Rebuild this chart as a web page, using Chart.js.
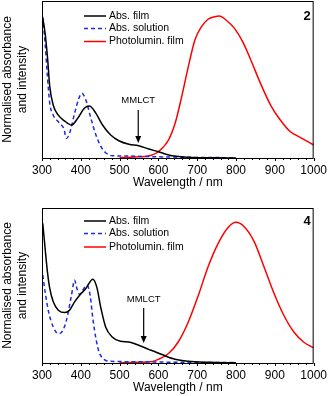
<!DOCTYPE html>
<html>
<head>
<meta charset="utf-8">
<script src="https://cdn.jsdelivr.net/npm/chart.js@4.4.1/dist/chart.umd.min.js"></script>
<style>
  body { margin: 0; background: #fff; width: 332px; height: 396px; overflow: hidden; position: relative; }
  .panel { position: absolute; left: 0; width: 332px; height: 191px; }
</style>
</head>
<body>
<div class="panel" style="top:0"><canvas id="chart2"></canvas></div>
<div class="panel" style="top:205px"><canvas id="chart4"></canvas></div>
<script>
// Complex 2
const filmWl2 = [302, 308, 314, 320, 329, 342, 358, 376, 392, 409, 422, 439, 456, 477, 498, 524, 549, 575, 600, 626, 677, 740, 800];
const filmAbs2 = [0.98, 0.874, 0.71, 0.50, 0.37, 0.30, 0.26, 0.231, 0.278, 0.348, 0.364, 0.313, 0.231, 0.161, 0.121, 0.096, 0.086, 0.063, 0.044, 0.021, 0.005, 0.001, 0];
const solWl2 = [302, 308, 314, 320, 329, 342, 350, 356, 363, 371, 384, 395, 403, 413, 426, 439, 452, 464, 481, 515, 600, 700, 800];
const solAbs2 = [0.99, 0.80, 0.57, 0.383, 0.30, 0.254, 0.231, 0.208, 0.138, 0.173, 0.313, 0.418, 0.453, 0.406, 0.278, 0.161, 0.079, 0.037, 0.016, 0.014, 0.008, 0.004, 0.002];
const plWl2 = [500, 550, 580, 600, 626, 643, 660, 677, 694, 711, 728, 745, 757, 774, 796, 817, 838, 863, 889, 914, 940, 965, 1000];
const plInt2 = [0.003, 0.008, 0.018, 0.044, 0.126, 0.243, 0.43, 0.64, 0.827, 0.92, 0.972, 0.99, 0.995, 0.967, 0.908, 0.815, 0.687, 0.523, 0.371, 0.266, 0.184, 0.145, 0.091];

// Complex 4
const filmWl4 = [302, 308, 314, 320, 329, 342, 359, 371, 384, 397, 413, 431, 441, 452, 464, 481, 502, 524, 549, 575, 609, 643, 677, 728, 800];
const filmAbs4 = [0.991, 0.813, 0.647, 0.529, 0.434, 0.375, 0.358, 0.375, 0.434, 0.481, 0.529, 0.595, 0.54, 0.387, 0.256, 0.185, 0.154, 0.149, 0.126, 0.097, 0.06, 0.026, 0.012, 0.005, 0.001];
const solWl4 = [302, 308, 317, 329, 342, 350, 363, 376, 384, 390, 397, 405, 416, 424, 431, 439, 447, 460, 477, 550, 650, 800];
const solAbs4 = [0.624, 0.505, 0.363, 0.256, 0.209, 0.216, 0.304, 0.481, 0.588, 0.529, 0.486, 0.517, 0.552, 0.481, 0.316, 0.173, 0.078, 0.026, 0.012, 0.009, 0.005, 0.003];
const plWl4 = [500, 550, 575, 600, 626, 651, 677, 703, 728, 754, 779, 800, 821, 847, 872, 898, 923, 949, 974, 1000];
const plInt4 = [0.002, 0.006, 0.007, 0.026, 0.067, 0.149, 0.291, 0.481, 0.683, 0.849, 0.96, 0.998, 0.967, 0.86, 0.683, 0.493, 0.339, 0.22, 0.149, 0.107];

const seriesLabels = ['Abs. film', 'Abs. solution', 'Photolumin. film'];
const xTicks = [300, 400, 500, 600, 700, 800, 900, 1000];

const FONT = 'Arial, "Liberation Sans", sans-serif';

function pts(xs, ys) {
    return xs.map((x, i) => ({ x: x, y: ys[i] }));
}

// frame, ticks, legend, arrow
const decor = {
    id: 'decor',
    afterDatasetsDraw(chart, args, opts) {
        const { ctx, chartArea: a, scales: { x, y } } = chart;
        ctx.save();
        ctx.strokeStyle = '#000';
        ctx.lineWidth = 1;
        ctx.strokeRect(a.left + 0.5, a.top + 0.5, a.right - a.left - 1, a.bottom - a.top);
        // outward ticks on the bottom axis
        ctx.beginPath();
        for (let v = 300; v <= 1000; v += 20) {
            const px = Math.round(x.getPixelForValue(v)) + 0.5;
            const len = v % 100 === 0 ? 3 : 2;
            ctx.moveTo(px, a.bottom);
            ctx.lineTo(px, a.bottom + len);
        }
        ctx.stroke();

        // legend
        ctx.font = '10.5px ' + FONT;
        ctx.textBaseline = 'middle';
        ctx.textAlign = 'left';
        chart.data.datasets.forEach((ds, i) => {
            const yy = opts.legendY[i];
            ctx.strokeStyle = ds.borderColor;
            ctx.lineWidth = 1.5;
            ctx.setLineDash(ds.borderDash || []);
            ctx.beginPath();
            ctx.moveTo(84, yy);
            ctx.lineTo(106, yy);
            ctx.stroke();
            ctx.setLineDash([]);
            ctx.fillStyle = '#000';
            ctx.fillText(ds.label, 109, yy);
        });

        // panel number
        ctx.font = 'bold 13px ' + FONT;
        ctx.textAlign = 'right';
        ctx.fillText(opts.tag, a.right - 3, opts.legendY[0]);

        // MMLCT arrow
        const ax = x.getPixelForValue(opts.arrow.x);
        const y0 = y.getPixelForValue(opts.arrow.from);
        const y1 = y.getPixelForValue(opts.arrow.to);
        ctx.strokeStyle = '#000';
        ctx.fillStyle = '#000';
        ctx.lineWidth = 1.2;
        ctx.beginPath();
        ctx.moveTo(ax, y0);
        ctx.lineTo(ax, y1 - 6);
        ctx.stroke();
        ctx.beginPath();
        ctx.moveTo(ax - 3, y1 - 7);
        ctx.lineTo(ax + 3, y1 - 7);
        ctx.lineTo(ax, y1);
        ctx.closePath();
        ctx.fill();
        ctx.font = '9.5px ' + FONT;
        ctx.textAlign = 'center';
        ctx.fillText('MMLCT', ax, y.getPixelForValue(opts.arrow.label));
        ctx.restore();
    }
};

function makeChart(id, film, sol, pl, padTop, decorOpts) {
    const ctx = document.getElementById(id).getContext('2d');
    return new Chart(ctx, {
        type: 'line',
        data: {
            datasets: [
                {
                    label: seriesLabels[0],
                    data: film,
                    borderColor: '#000000',
                    borderWidth: 1.5
                },
                {
                    label: seriesLabels[1],
                    data: sol,
                    borderColor: '#1f2bdc',
                    borderWidth: 1.5,
                    borderDash: [4, 3]
                },
                {
                    label: seriesLabels[2],
                    data: pl,
                    borderColor: '#ff0000',
                    borderWidth: 1.5
                }
            ]
        },
        options: {
            responsive: true,
            maintainAspectRatio: false,
            animation: false,
            elements: {
                point: { radius: 0 },
                line: { cubicInterpolationMode: 'monotone', fill: false }
            },
            layout: { padding: { left: 0, right: 15, top: padTop, bottom: 0 } },
            scales: {
                x: {
                    type: 'linear',
                    min: 300,
                    max: 1000,
                    afterBuildTicks: (s) => { s.ticks = xTicks.map(v => ({ value: v })); },
                    afterFit: (s) => { s.height = 33; },
                    grid: { display: false, drawTicks: false },
                    border: { display: false },
                    ticks: {
                        color: '#000',
                        font: { size: 12, family: FONT },
                        padding: 5,
                        maxRotation: 0,
                        callback: (v) => String(v)
                    },
                    title: {
                        display: true,
                        text: 'Wavelength / nm',
                        color: '#000',
                        font: { size: 12, family: FONT },
                        padding: { top: 0, bottom: 1 }
                    }
                },
                y: {
                    min: 0,
                    max: 1.1,
                    afterFit: (s) => { s.width = 42; },
                    grid: { display: false, drawTicks: false },
                    border: { display: false },
                    ticks: { display: false },
                    title: {
                        display: true,
                        text: ['Normalised absorbance', 'and intensity'],
                        color: '#000',
                        font: { size: 12, family: FONT, lineHeight: 1.25 },
                        padding: { top: 0, bottom: 0 }
                    }
                }
            },
            plugins: {
                legend: { display: false },
                tooltip: { enabled: false },
                decor: decorOpts
            }
        },
        plugins: [decor]
    });
}

makeChart('chart2', pts(filmWl2, filmAbs2), pts(solWl2, solAbs2), pts(plWl2, plInt2), 1, {
    tag: '2',
    legendY: [16, 28.5, 41.5],
    arrow: { x: 548, from: 0.336, to: 0.105, label: 0.406 }
});
makeChart('chart4', pts(filmWl4, filmAbs4), pts(solWl4, solAbs4), pts(plWl4, plInt4), 3, {
    tag: '4',
    legendY: [16, 28.5, 42],
    arrow: { x: 562, from: 0.391, to: 0.142, label: 0.453 }
});
</script>
</body>
</html>
